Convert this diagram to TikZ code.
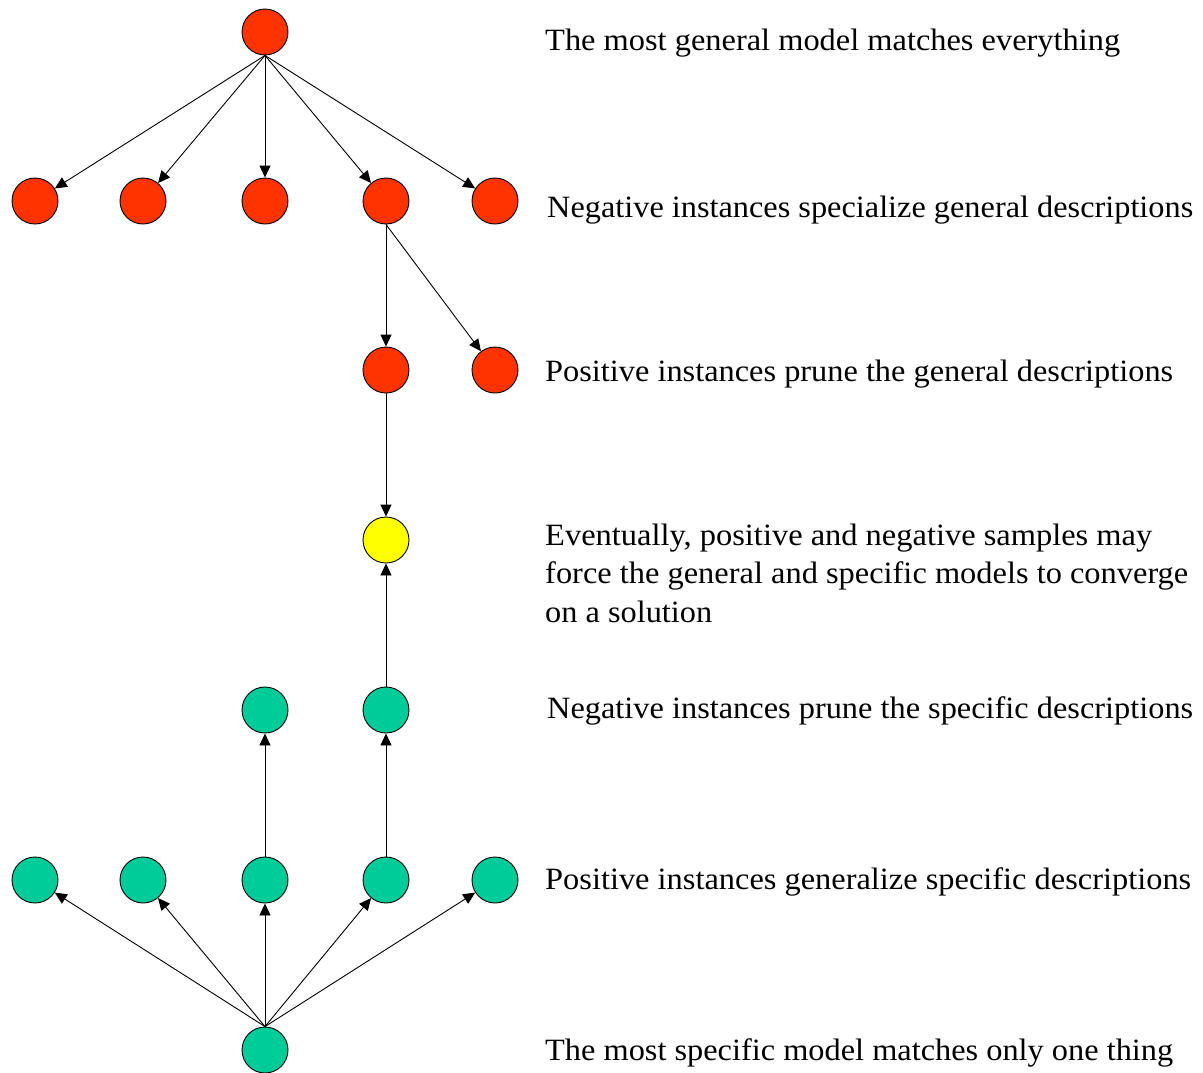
\documentclass[tikz,border=0pt]{standalone}
\usepackage{fontspec}
\setmainfont{Liberation Serif}
\usetikzlibrary{arrows.meta}
\definecolor{genred}{HTML}{FF3300}
\definecolor{solyellow}{HTML}{FFFF00}
\definecolor{specgreen}{HTML}{00CC99}
\newcommand{\fitline}[2]{\resizebox{#1pt}{\height}{#2}}
\begin{document}
\begin{tikzpicture}[x=1pt,y=-1pt,
  model/.style={circle,draw=black,line width=0.9pt,minimum size=46pt,inner sep=0pt},
  gen/.style={model,fill=genred},
  sol/.style={model,fill=solyellow},
  spec/.style={model,fill=specgreen},
  link/.style={draw=black,line width=0.9pt,-{Triangle[length=12pt,width=11pt]}},
  caption/.style={anchor=base west,inner sep=0pt,font=\fontsize{31}{38.5}\selectfont,align=left}]
\useasboundingbox (0,0) rectangle (1203,1072);

% general boundary
\node[gen] (g0) at (265,32) {};
\node[gen] (g1) at (35,201) {};
\node[gen] (g2) at (143,201) {};
\node[gen] (g3) at (265,201) {};
\node[gen] (g4) at (386,201) {};
\node[gen] (g5) at (495,201) {};
\node[gen] (p1) at (386,370) {};
\node[gen] (p2) at (495,370) {};

% converged solution
\node[sol] (sol) at (386,540) {};

% specific boundary
\node[spec] (n1) at (265,710) {};
\node[spec] (n2) at (386,710) {};
\node[spec] (s1) at (35,880) {};
\node[spec] (s2) at (143,880) {};
\node[spec] (s3) at (265,880) {};
\node[spec] (s4) at (386,880) {};
\node[spec] (s5) at (495,880) {};
\node[spec] (s0) at (265,1050) {};

% specialization
\foreach \t in {g1,g2,g3,g4,g5} \draw[link] (g0.south) -- (\t);
\draw[link] (g4.south) -- (p1);
\draw[link] (g4.south) -- (p2);
\draw[link] (p1.south) -- (sol);

% generalization
\foreach \t in {s1,s2,s3,s4,s5} \draw[link] (s0.north) -- (\t);
\draw[link] (s3.north) -- (n1);
\draw[link] (s4.north) -- (n2);
\draw[link] (n2.north) -- (sol);

% captions (a multi-line caption sits on the baseline of its last line)
\node[caption] (c1) at (545,50) {\fitline{575}{The most general model matches everything}};
\node[caption] (c2) at (547,217) {\fitline{646}{Negative instances specialize general descriptions}};
\node[caption] (c3) at (545,381) {\fitline{628}{Positive instances prune the general descriptions}};
\node[caption] (c4) at (545,622) {\fitline{607}{Eventually, positive and negative samples may}\\
  \fitline{643}{force the general and specific models to converge}\\
  \fitline{167}{on a solution}};
\node[caption] (c5) at (547,718) {\fitline{646}{Negative instances prune the specific descriptions}};
\node[caption] (c6) at (545,889) {\fitline{646}{Positive instances generalize specific descriptions}};
\node[caption] (c7) at (545,1060) {\fitline{628}{The most specific model matches only one thing}};
\end{tikzpicture}
\end{document}
